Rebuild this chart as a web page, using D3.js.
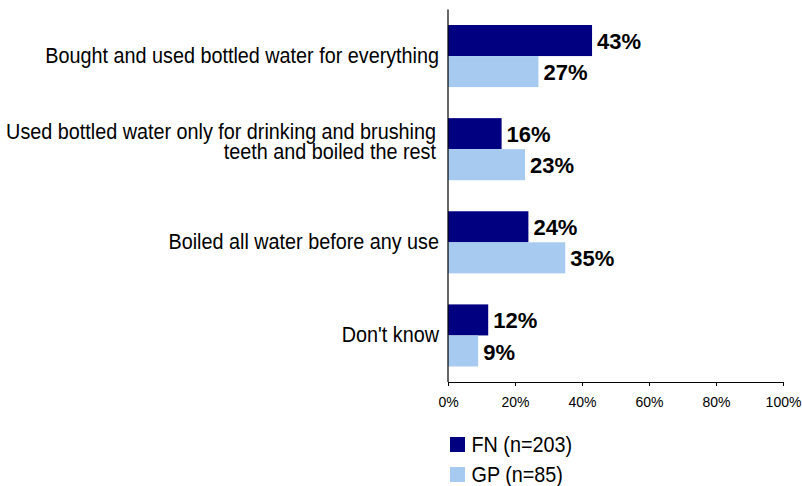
<!DOCTYPE html>
<html>
<head>
<meta charset="utf-8">
<script src="https://cdn.jsdelivr.net/npm/d3@7"></script>
<style>
  html, body { margin: 0; padding: 0; background: #fff; }
  svg { display: block; font-family: "Liberation Sans", Arial, sans-serif; }
</style>
</head>
<body>
<svg id="chart" width="802" height="486"></svg>
<script>
// Water-use responses, two survey groups
const categories = [
  ["Bought and used bottled water for everything"],
  ["Used bottled water only for drinking and brushing", "teeth and boiled the rest"],
  ["Boiled all water before any use"],
  ["Don't know"]
];
const seriesNames = ["FN (n=203)", "GP (n=85)"];
const seriesColors = ["#000080", "#A6CAF0"];
const fnValues = [43, 16, 24, 12];
const gpValues = [27, 23, 35, 9];
const xTicks = [0, 20, 40, 60, 80, 100];

const svg = d3.select("#chart");

const plot = { left: 448, right: 783, top: 9.5, bottom: 382 };
const textSqueeze = 0.9; // narrow set for the regular-weight labels

const x = d3.scaleLinear().domain([0, 100]).range([plot.left, plot.right]);
const y = d3.scaleBand()
  .domain(d3.range(categories.length))
  .range([plot.top, plot.bottom])
  .paddingInner(1 / 3)
  .paddingOuter(1 / 6);
const sub = d3.scaleBand().domain([0, 1]).range([0, y.bandwidth()]);

const series = [fnValues, gpValues];

// bars and value labels
series.forEach((vals, s) => {
  svg.append("g").selectAll("rect")
    .data(vals)
    .join("rect")
    .attr("x", x(0))
    .attr("y", (d, i) => y(i) + sub(s))
    .attr("width", d => x(d) - x(0))
    .attr("height", sub.bandwidth())
    .attr("fill", seriesColors[s]);

  svg.append("g").selectAll("text")
    .data(vals)
    .join("text")
    .attr("x", d => x(d) + 5)
    .attr("y", (d, i) => y(i) + sub(s) + sub.bandwidth() / 2)
    .attr("dy", "0.39em")
    .attr("font-size", 22)
    .attr("font-weight", "bold")
    .attr("fill", "#000")
    .text(d => d + "%");
});

// category labels, right-aligned against the axis
categories.forEach((lines, i) => {
  const cy = y(i) + y.bandwidth() / 2;
  const lh = 20;
  const ax = lines.length > 1 ? 436 : 439;
  const g = svg.append("g")
    .attr("transform", `translate(${ax},0) scale(${textSqueeze},1)`);
  const t = g.append("text")
    .attr("text-anchor", "end")
    .attr("font-size", 22)
    .attr("fill", "#000");
  lines.forEach((ln, k) => {
    const base = lines.length > 1
      ? cy + (k - (lines.length - 1) / 2) * lh
      : cy + 7;
    t.append("tspan")
      .attr("x", 0)
      .attr("y", base)
      .text(ln);
  });
});

// x axis
const xAxis = d3.axisBottom(x)
  .tickValues(xTicks)
  .tickFormat(d => d + "%")
  .tickSizeInner(4)
  .tickSizeOuter(0)
  .tickPadding(11);
const gx = svg.append("g")
  .attr("transform", `translate(0,${plot.bottom})`)
  .call(xAxis);
gx.select(".domain").attr("stroke", "#000").attr("stroke-width", 1.2);
gx.selectAll(".tick line").attr("stroke", "#000");
gx.selectAll(".tick text")
  .attr("font-size", 14)
  .attr("font-family", "\"Liberation Sans\", Arial, sans-serif")
  .attr("fill", "#000");

// vertical category axis line
svg.append("line")
  .attr("x1", x(0)).attr("x2", x(0))
  .attr("y1", plot.top).attr("y2", plot.bottom)
  .attr("stroke", "#000")
  .attr("stroke-width", 1.2);

// legend
const legend = svg.append("g").attr("transform", "translate(450,437)");
seriesNames.forEach((name, s) => {
  const g = legend.append("g").attr("transform", `translate(0,${s * 30})`);
  g.append("rect").attr("width", 15).attr("height", 15).attr("fill", seriesColors[s]);
  g.append("g")
    .attr("transform", `translate(21.5,15) scale(${textSqueeze},1)`)
    .append("text")
    .attr("x", 0)
    .attr("y", 0)
    .attr("font-size", 22)
    .attr("fill", "#000")
    .text(name);
});
</script>
</body>
</html>
